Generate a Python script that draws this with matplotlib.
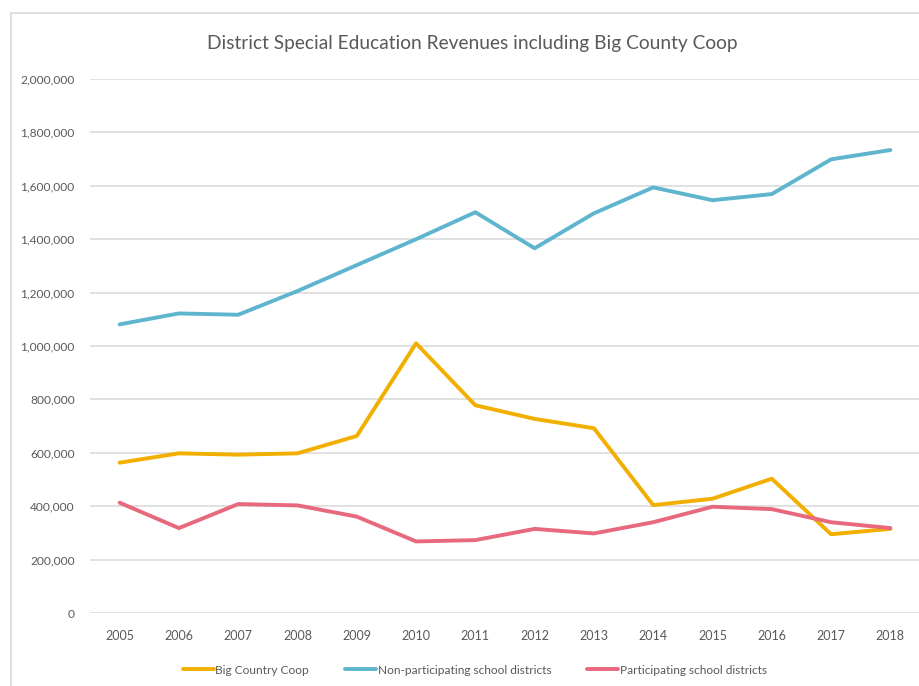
import matplotlib.pyplot as plt
from matplotlib.patches import Rectangle
from matplotlib.ticker import FuncFormatter

plt.rcParams['font.family'] = ['Lato', 'DejaVu Sans']

years = ['2005', '2006', '2007', '2008', '2009', '2010', '2011',
         '2012', '2013', '2014', '2015', '2016', '2017', '2018']

big_country_coop = [563000, 598000, 593000, 598000, 663000, 1010000, 778000,
                    727000, 692000, 404000, 428000, 503000, 295000, 315000]
non_participating = [1081000, 1122000, 1117000, 1206000, 1303000, 1400000, 1501000,
                     1366000, 1497000, 1594000, 1546000, 1569000, 1699000, 1734000]
participating = [413000, 318000, 408000, 403000, 361000, 268000, 273000,
                 315000, 298000, 340000, 398000, 389000, 340000, 318000]

text_col = '#595959'

fig = plt.figure(figsize=(9.2, 6.86), dpi=100)
# chart area border
fig.patches.append(Rectangle((11 / 920, -0.01), 1.0, 1 - 12.5 / 686 + 0.01,
                             transform=fig.transFigure, fill=False,
                             edgecolor='#d9d9d9', linewidth=1.2))

ax = fig.add_axes([90 / 920, 1 - 613 / 686, 830 / 920, 534 / 686])
x = range(len(years))
ax.plot(x, big_country_coop, color='#f2af00', lw=2.8, label='Big Country Coop',
        solid_capstyle='round')
ax.plot(x, non_participating, color='#5fb5ce', lw=2.8,
        label='Non-participating school districts', solid_capstyle='round')
ax.plot(x, participating, color='#e8697d', lw=2.8,
        label='Participating school districts', solid_capstyle='round')

ax.set_xlim(-0.5, len(years) - 0.5)
ax.set_ylim(0, 2000000)
ax.set_yticks(range(0, 2000001, 200000))
ax.yaxis.set_major_formatter(FuncFormatter(lambda v, p: f'{int(v):,}'))
ax.set_xticks(list(x))
ax.set_xticklabels(years)
ax.grid(axis='y', color='#d9d9d9', lw=1.1)
ax.set_axisbelow(True)
for s in ax.spines.values():
    s.set_visible(False)
ax.tick_params(length=0, labelsize=9, colors=text_col, pad=12)
ax.tick_params(axis='y', labelsize=8.6, pad=11)

fig.text(472 / 920, 1 - 44 / 686, 'District Special Education Revenues including Big County Coop',
         ha='center', va='center', fontsize=13.8, color=text_col)

fig.legend(loc='center', bbox_to_anchor=(475 / 920, 1 - 670 / 686), ncol=3,
           frameon=False, fontsize=8.6, handlelength=2.6, handletextpad=0.15,
           columnspacing=3.0, labelcolor=text_col)

fig.savefig('out.png', dpi=100)
